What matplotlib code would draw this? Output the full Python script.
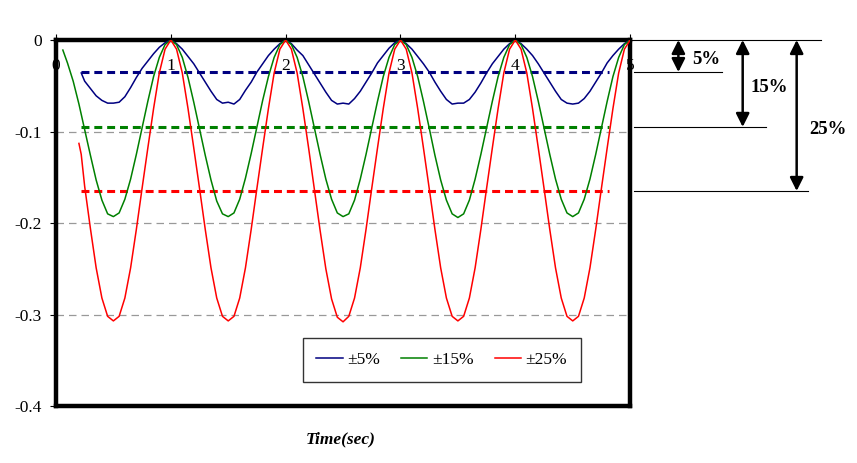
import numpy as np
import matplotlib.pyplot as plt

plt.rcParams['font.family'] = ['Liberation Serif', 'DejaVu Serif']

# ---- data ----
t_blue = [0.22, 0.25, 0.30, 0.35, 0.40, 0.45, 0.50, 0.55, 0.60, 0.65, 0.70, 0.75, 0.80, 0.85, 0.90, 0.95,
          1.00, 1.05, 1.10, 1.15, 1.20, 1.25, 1.30, 1.35, 1.40, 1.45, 1.50, 1.55, 1.60, 1.65, 1.70, 1.75, 1.80, 1.85, 1.90, 1.95,
          2.00, 2.05, 2.10, 2.15, 2.20, 2.25, 2.30, 2.35, 2.40, 2.45, 2.50, 2.55, 2.60, 2.65, 2.70, 2.75, 2.80, 2.85, 2.90, 2.95,
          3.00, 3.05, 3.10, 3.15, 3.20, 3.25, 3.30, 3.35, 3.40, 3.45, 3.50, 3.55, 3.60, 3.65, 3.70, 3.75, 3.80, 3.85, 3.90, 3.95,
          4.00, 4.05, 4.10, 4.15, 4.20, 4.25, 4.30, 4.35, 4.40, 4.45, 4.50, 4.55, 4.60, 4.65, 4.70, 4.75, 4.80, 4.85, 4.90, 4.95, 5.00]
v_blue = [-0.036, -0.045, -0.053, -0.061, -0.066, -0.069, -0.069, -0.068, -0.062, -0.052, -0.041, -0.031, -0.023, -0.015, -0.008, -0.003,
          0.000, -0.004, -0.010, -0.018, -0.026, -0.036, -0.046, -0.056, -0.065, -0.069, -0.068, -0.070, -0.065, -0.055, -0.046, -0.035, -0.026, -0.017, -0.010, -0.004,
          0.000, -0.004, -0.011, -0.017, -0.027, -0.037, -0.047, -0.057, -0.066, -0.070, -0.069, -0.070, -0.064, -0.056, -0.046, -0.036, -0.025, -0.017, -0.009, -0.003,
          0.000, -0.004, -0.010, -0.018, -0.026, -0.035, -0.046, -0.056, -0.065, -0.070, -0.069, -0.069, -0.065, -0.057, -0.047, -0.036, -0.026, -0.018, -0.010, -0.004,
          0.000, -0.004, -0.010, -0.017, -0.026, -0.036, -0.046, -0.056, -0.065, -0.069, -0.070, -0.069, -0.064, -0.056, -0.046, -0.036, -0.025, -0.017, -0.010, -0.004, 0.000]

t_green = [0.06, 0.10, 0.15, 0.20, 0.25, 0.30, 0.35, 0.40, 0.45, 0.50, 0.55, 0.60, 0.65, 0.70, 0.75, 0.80, 0.85, 0.90, 0.95,
           1.00, 1.05, 1.10, 1.15, 1.20, 1.25, 1.30, 1.35, 1.40, 1.45, 1.50, 1.55, 1.60, 1.65, 1.70, 1.75, 1.80, 1.85, 1.90, 1.95,
           2.00, 2.05, 2.10, 2.15, 2.20, 2.25, 2.30, 2.35, 2.40, 2.45, 2.50, 2.55, 2.60, 2.65, 2.70, 2.75, 2.80, 2.85, 2.90, 2.95,
           3.00, 3.05, 3.10, 3.15, 3.20, 3.25, 3.30, 3.35, 3.40, 3.45, 3.50, 3.55, 3.60, 3.65, 3.70, 3.75, 3.80, 3.85, 3.90, 3.95,
           4.00, 4.05, 4.10, 4.15, 4.20, 4.25, 4.30, 4.35, 4.40, 4.45, 4.50, 4.55, 4.60, 4.65, 4.70, 4.75, 4.80, 4.85, 4.90, 4.95, 5.00]
v_green = [-0.011, -0.025, -0.045, -0.070, -0.098, -0.126, -0.153, -0.175, -0.190, -0.193, -0.189, -0.174, -0.152, -0.125, -0.096, -0.067, -0.040, -0.019, -0.005,
           0.000, -0.005, -0.019, -0.041, -0.068, -0.097, -0.126, -0.153, -0.176, -0.190, -0.193, -0.189, -0.174, -0.151, -0.124, -0.095, -0.066, -0.040, -0.019, -0.005,
           0.000, -0.005, -0.019, -0.040, -0.067, -0.096, -0.125, -0.152, -0.174, -0.189, -0.193, -0.190, -0.175, -0.152, -0.125, -0.096, -0.067, -0.040, -0.019, -0.005,
           0.000, -0.005, -0.019, -0.040, -0.067, -0.096, -0.126, -0.153, -0.175, -0.190, -0.194, -0.190, -0.175, -0.152, -0.125, -0.096, -0.067, -0.040, -0.019, -0.005,
           0.000, -0.005, -0.019, -0.040, -0.067, -0.096, -0.125, -0.152, -0.174, -0.189, -0.193, -0.189, -0.174, -0.152, -0.125, -0.096, -0.067, -0.040, -0.019, -0.005, 0.000]

t_red = [0.20, 0.22, 0.25, 0.30, 0.35, 0.40, 0.45, 0.50, 0.55, 0.60, 0.65, 0.70, 0.75, 0.80, 0.85, 0.90, 0.95,
         1.00, 1.05, 1.10, 1.15, 1.20, 1.25, 1.30, 1.35, 1.40, 1.45, 1.50, 1.55, 1.60, 1.65, 1.70, 1.75, 1.80, 1.85, 1.90, 1.95,
         2.00, 2.05, 2.10, 2.15, 2.20, 2.25, 2.30, 2.35, 2.40, 2.45, 2.50, 2.55, 2.60, 2.65, 2.70, 2.75, 2.80, 2.85, 2.90, 2.95,
         3.00, 3.05, 3.10, 3.15, 3.20, 3.25, 3.30, 3.35, 3.40, 3.45, 3.50, 3.55, 3.60, 3.65, 3.70, 3.75, 3.80, 3.85, 3.90, 3.95,
         4.00, 4.05, 4.10, 4.15, 4.20, 4.25, 4.30, 4.35, 4.40, 4.45, 4.50, 4.55, 4.60, 4.65, 4.70, 4.75, 4.80, 4.85, 4.90, 4.95, 5.00]
v_red = [-0.113, -0.125, -0.160, -0.206, -0.249, -0.282, -0.302, -0.307, -0.302, -0.282, -0.249, -0.207, -0.162, -0.118, -0.075, -0.036, -0.010,
         0.000, -0.010, -0.036, -0.075, -0.118, -0.162, -0.207, -0.249, -0.282, -0.302, -0.307, -0.302, -0.282, -0.249, -0.207, -0.162, -0.118, -0.075, -0.036, -0.010,
         0.000, -0.010, -0.036, -0.075, -0.118, -0.163, -0.208, -0.250, -0.283, -0.303, -0.308, -0.302, -0.282, -0.249, -0.207, -0.162, -0.118, -0.075, -0.036, -0.010,
         0.000, -0.010, -0.036, -0.075, -0.118, -0.162, -0.207, -0.249, -0.282, -0.302, -0.307, -0.302, -0.282, -0.249, -0.207, -0.162, -0.118, -0.075, -0.036, -0.010,
         0.000, -0.010, -0.036, -0.075, -0.118, -0.162, -0.207, -0.249, -0.282, -0.302, -0.307, -0.302, -0.282, -0.249, -0.207, -0.162, -0.118, -0.075, -0.036, -0.010, 0.000]

# mean levels (dashed lines) and their extent
mean_levels = [-0.035, -0.095, -0.165]
mean_start, mean_end = 0.22, 4.82

labels = ['\u00b15%', '\u00b115%', '\u00b125%']
colors = ['#000080', '#008000', '#ff0000']
pct_text = ['5%', '15%', '25%']

x_ticks = [0, 1, 2, 3, 4, 5]
y_ticks = [0, -0.1, -0.2, -0.3, -0.4]

# ---- figure ----
fig = plt.figure(figsize=(8.57, 4.63), dpi=100)
ax = fig.add_axes([0.0653, 0.1231, 0.6700, 0.7905])

ax.set_xlim(0, 5)
ax.set_ylim(-0.4, 0)

for yv in y_ticks[1:-1]:
    ax.axhline(yv, color='#999999', lw=0.9, dashes=(6, 4), zorder=1)

series = [(t_blue, v_blue), (t_green, v_green), (t_red, v_red)]
for (tt, vv), c, lab in zip(series, colors, labels):
    ax.plot(tt, vv, color=c, lw=1.1, label=lab, zorder=3)

for lvl, c in zip(mean_levels, colors):
    ax.plot([mean_start, mean_end], [lvl, lvl], color=c, lw=2.2,
            dashes=(2.6, 1.6), zorder=2)

for s in ax.spines.values():
    s.set_linewidth(3.2)

ax.xaxis.tick_top()
ax.set_xticks(x_ticks)
ax.set_xticklabels([])
ax.tick_params(axis='x', direction='out', length=4, width=0.8)
for xv in x_ticks:
    ax.text(xv, -0.028, str(xv), ha='center', va='center', fontsize=12.5, zorder=4)

ax.set_yticks(y_ticks)
ax.set_yticklabels(['0', '-0.1', '-0.2', '-0.3', '-0.4'], fontsize=12.5)
ax.tick_params(axis='y', direction='out', length=4, width=0.8, pad=6)

leg = ax.legend(loc='center', bbox_to_anchor=(0.672, 0.126), ncol=3, frameon=True,
                fancybox=False, edgecolor='black', fontsize=12.5, handlelength=1.5,
                columnspacing=1.25, borderpad=0.8, borderaxespad=0, handletextpad=0.25)
leg.get_frame().set_linewidth(1.0)

fig.text(0.397, 0.05, 'Time(sec)', ha='center', va='center', fontsize=12.5,
         fontweight='bold', fontstyle='italic')

# ---- right side annotations ----
ref_lines = [(5.02, 6.66, 0.0), (5.03, 5.80, mean_levels[0]),
             (5.03, 6.18, mean_levels[1]), (5.03, 6.55, mean_levels[2])]
for x0, x1, yv in ref_lines:
    ax.plot([x0, x1], [yv, yv], color='black', lw=0.8, clip_on=False)

arrow_x = [5.42, 5.98, 6.45]
text_pos = [(5.66, -0.021), (6.21, -0.052), (6.72, -0.098)]
for ax_x, lvl, (tx, ty), txt in zip(arrow_x, mean_levels, text_pos, pct_text):
    ax.annotate('', xy=(ax_x, lvl), xytext=(ax_x, 0.0),
                arrowprops=dict(arrowstyle='<|-|>', color='black', lw=1.8,
                                mutation_scale=20, shrinkA=0, shrinkB=0),
                annotation_clip=False)
    ax.text(tx, ty, txt, ha='center', va='center', fontsize=13.5,
            fontweight='bold', clip_on=False)

fig.savefig('out.png', dpi=100)
